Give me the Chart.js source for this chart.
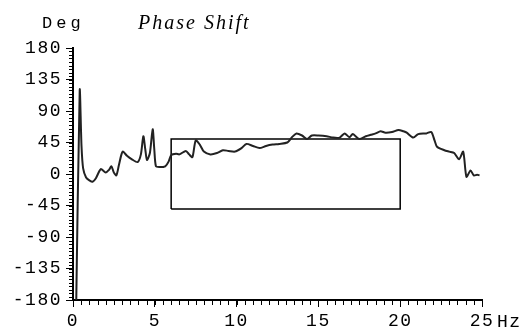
<!DOCTYPE html>
<html>
<head>
<meta charset="utf-8">
<script src="https://cdn.jsdelivr.net/npm/chart.js@4/dist/chart.umd.min.js"></script>
<style>
html,body{margin:0;padding:0;background:#fff;}
#wrap{width:527px;height:332px;position:relative;}
</style>
</head>
<body>
<div id="wrap"><canvas id="c" width="527" height="332"></canvas></div>
<script>
// Data (frequency in Hz, phase in degrees)
const freqHz = [0.2,0.41,0.52,0.62,0.8,1.0,1.2,1.4,1.7,2.0,2.2,2.35,2.5,2.65,2.8,2.95,3.05,3.3,3.6,3.95,4.15,4.3,4.42,4.52,4.7,4.87,4.97,5.07,5.3,5.64,5.85,6.0,6.3,6.5,6.9,7.1,7.3,7.5,7.75,8.0,8.4,8.8,9.16,9.5,9.9,10.3,10.6,11.0,11.4,11.8,12.2,12.6,13.1,13.4,13.66,14.0,14.3,14.6,15.0,15.5,15.9,16.3,16.6,16.9,17.1,17.5,17.9,18.2,18.5,18.8,19.1,19.5,19.9,20.2,20.4,20.8,21.1,21.6,21.9,22.1,22.25,22.7,23.0,23.3,23.6,23.85,24.05,24.3,24.5,24.7,24.85];
const phaseDeg = [-180,120,40,8,-5,-9,-11,-6,7,2,6,11,2,-2,12,27,32,26,21,17,28,54,35,20,30,64,35,11,10,11,18,27,29,28,33,28,24,48,42,32,28,30,34,33,32,37,43,40,37,40,42,43,45,53,58,55,50,55,55,54,52,52,58,52.5,57,50,54,56,58,61,59,60,63,61,59,52,57,58,60,48,39,34,32,30,21,32,-4,5,-2,-1,-2];
// Tolerance box corners
const boxHz = [6,6,20,20,6];
const boxDeg = [-50,50,50,-50,-50];
// Axis ticks
const xTicks = [0,5,10,15,20,25];
const yTicks = [-180,-135,-90,-45,0,45,90,135,180];
const xMinorStep = 0.5;
const yMinorStep = 5;
const titleText = 'Phase Shift';
const yUnit = 'Deg';
const xUnit = 'Hz';

const MONO = "'Liberation Mono', 'Courier New', monospace";
const SPACING = '1.5px';

const lineData = freqHz.map((x,i)=>({x:x,y:phaseDeg[i]}));
const boxData = boxHz.map((x,i)=>({x:x,y:boxDeg[i]}));

const spacingPlugin = {
  id:'spacing',
  beforeUpdate(chart){ chart.ctx.letterSpacing = SPACING; },
  beforeDraw(chart){ chart.ctx.letterSpacing = SPACING; }
};

const extrasPlugin = {
  id:'extras',
  afterDraw(chart){
    const ctx = chart.ctx;
    const xs = chart.scales.x, ys = chart.scales.y;
    ctx.save();
    ctx.strokeStyle = '#000';
    ctx.lineWidth = 1;
    ctx.beginPath();
    for (let v = xs.min; v <= xs.max + 1e-9; v += xMinorStep) {
      const px = Math.round(xs.getPixelForValue(v)) + 0.5;
      ctx.moveTo(px, chart.chartArea.bottom);
      ctx.lineTo(px, chart.chartArea.bottom + 5);
    }
    for (let v = ys.min; v <= ys.max + 1e-9; v += yMinorStep) {
      const py = Math.round(ys.getPixelForValue(v)) + 0.5;
      ctx.moveTo(chart.chartArea.left - 4, py);
      ctx.lineTo(chart.chartArea.left, py);
    }
    ctx.stroke();
    ctx.fillStyle = '#000';
    ctx.textBaseline = 'alphabetic';
    ctx.textAlign = 'left';
    ctx.letterSpacing = '4px';
    ctx.font = "17px " + MONO;
    ctx.fillText(yUnit, 42, 28);
    ctx.letterSpacing = '2px';
    ctx.font = "italic 20px 'Liberation Serif', serif";
    ctx.fillText(titleText, 138, 29);
    ctx.letterSpacing = SPACING;
    ctx.font = "18px " + MONO;
    ctx.fillText(xUnit, 497, 327);
    ctx.restore();
  }
};

new Chart(document.getElementById('c'), {
  type:'scatter',
  data:{
    datasets:[
      {data:lineData, showLine:true, borderColor:'#222', borderWidth:2, pointRadius:0, tension:0.25, fill:false},
      {data:boxData, showLine:true, borderColor:'#000', borderWidth:1.5, pointRadius:0, tension:0, fill:false}
    ]
  },
  options:{
    responsive:false,
    animation:false,
    devicePixelRatio:1,
    layout:{padding:{top:48, right:45, left:0, bottom:0}},
    plugins:{legend:{display:false}, tooltip:{enabled:false}, title:{display:false}},
    scales:{
      x:{
        type:'linear', min:0, max:25,
        afterBuildTicks(s){ s.ticks = xTicks.map(v=>({value:v})); },
        afterFit(s){ s.height = 332 - 300; },
        border:{display:true, color:'#000', width:2},
        grid:{display:true, drawOnChartArea:false, drawTicks:true, tickLength:7, color:'#000', tickColor:'#000', lineWidth:1},
        ticks:{color:'#000', font:{family:MONO, size:18}, padding:3, maxRotation:0, autoSkip:false, callback:v=>String(v)}
      },
      y:{
        type:'linear', min:-180, max:180,
        afterBuildTicks(s){ s.ticks = yTicks.map(v=>({value:v})); },
        afterFit(s){ s.width = 73; },
        border:{display:true, color:'#000', width:2},
        grid:{display:true, drawOnChartArea:false, drawTicks:true, tickLength:7, color:'#000', tickColor:'#000', lineWidth:1},
        ticks:{color:'#000', font:{family:MONO, size:18}, padding:4, autoSkip:false, callback:v=>String(v)}
      }
    }
  },
  plugins:[spacingPlugin, extrasPlugin]
});
</script>
</body>
</html>
